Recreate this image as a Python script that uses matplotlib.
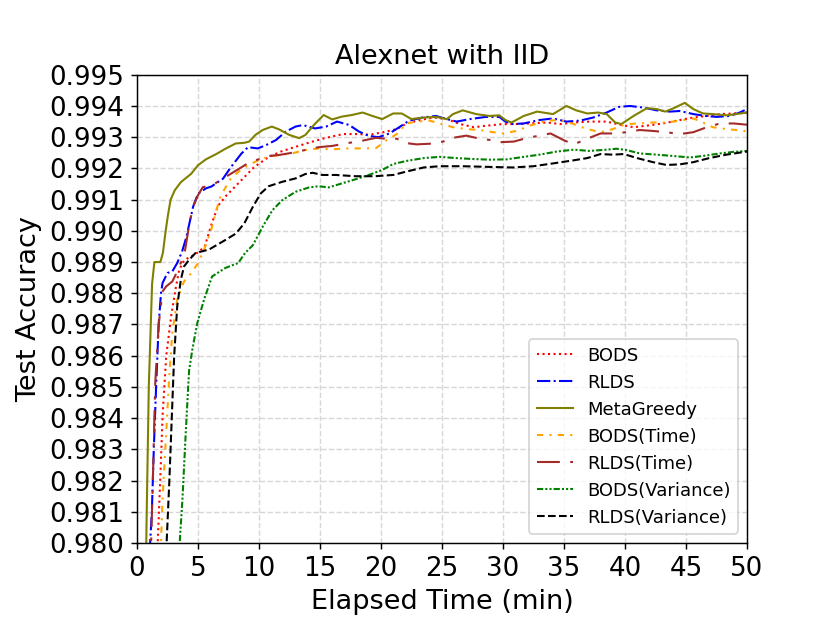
import numpy as np
import matplotlib
matplotlib.use('Agg')
import matplotlib.pyplot as plt
from matplotlib.ticker import FormatStrFormatter

# readings (elapsed minutes, test accuracy)
bods_t = [1.6, 1.7, 1.9, 2.1, 2.4, 2.8, 3.2, 3.46, 3.86, 4.27, 4.8, 5.55, 6.1, 6.64, 7.3,
          8.0, 8.8, 9.6, 10.7, 11.8, 12.9, 14.3, 15.5, 16.9, 18.0, 19.1, 20.2, 21.3, 22.1, 23.2,
          24.3, 25.4, 26.5, 27.6, 28.7, 30.0, 31.1, 32.2, 33.6, 34.7, 35.8, 37.1, 38.5, 39.6, 40.7,
          41.8, 43.1, 44.5, 45.6, 46.7, 47.8, 48.9, 50.0]
bods_acc = [0.979, 0.980, 0.98194, 0.98407, 0.98599, 0.98726, 0.98822, 0.98875, 0.98905, 0.98915,
            0.98925, 0.98949, 0.99020, 0.99080, 0.99112, 0.99140, 0.99172, 0.99204, 0.99234, 0.99254,
            0.99268, 0.99285, 0.99298, 0.99310, 0.99310, 0.99308, 0.99316, 0.99326, 0.99344, 0.99355,
            0.99363, 0.99358, 0.99342, 0.99332, 0.99337, 0.99342, 0.99342, 0.99344, 0.99347, 0.99342,
            0.99347, 0.99350, 0.99350, 0.99340, 0.99332, 0.99337, 0.99344, 0.99355, 0.99363, 0.99368,
            0.99374, 0.99376, 0.99379]

rlds_t = [1.0, 1.08, 1.22, 1.38, 1.57, 1.78, 1.97, 2.1, 2.5, 2.9, 3.3, 3.7, 4.05, 4.6, 5.0,
          5.65, 6.1, 7.05, 7.7, 8.55, 9.1, 9.9, 10.6, 11.4, 12.2, 13.0, 13.6, 14.6, 15.5, 16.4,
          17.4, 18.2, 19.0, 19.8, 20.7, 21.5, 22.3, 23.4, 24.5, 25.4, 26.2, 27.3, 28.6, 29.7, 30.2,
          30.8, 31.7, 33.0, 34.1, 35.2, 36.3, 37.4, 38.5, 39.5, 40.4, 41.5, 42.6, 43.7, 44.5, 45.6,
          46.6, 47.5, 48.6, 49.4, 50.0]
rlds_acc = [0.979, 0.980, 0.981, 0.983, 0.985, 0.987, 0.988, 0.98833, 0.98865, 0.98870,
            0.98897, 0.98934, 0.98980, 0.99077, 0.99119, 0.99136, 0.99142, 0.99167, 0.99204, 0.99247,
            0.99268, 0.99264, 0.99275, 0.99291, 0.99318, 0.99334, 0.99339, 0.99328, 0.99334, 0.99350,
            0.99339, 0.99318, 0.99304, 0.99300, 0.99312, 0.99332, 0.99353, 0.99363, 0.99368, 0.99358,
            0.99350, 0.99358, 0.99365, 0.99365, 0.99350, 0.99342, 0.99344, 0.99355, 0.99360, 0.99350,
            0.99353, 0.99363, 0.99379, 0.99397, 0.99400, 0.99395, 0.99386, 0.99382, 0.99384, 0.99374,
            0.99368, 0.99365, 0.99368, 0.99379, 0.99390]

meta_t = [0.72, 0.76, 0.97, 1.24, 1.43, 1.92, 2.13, 2.32, 2.54, 2.76, 3.1, 3.6, 4.45, 5.0, 5.65,
          6.5, 7.3, 8.1, 8.8, 9.2, 9.7, 10.3, 11.05, 11.65, 12.5, 13.3, 13.8, 14.5, 15.3, 16.0,
          16.8, 17.6, 18.5, 19.3, 20.1, 21.0, 21.7, 22.5, 23.5, 24.5, 25.4, 25.9, 26.7, 27.8, 28.9,
          29.7, 30.2, 30.7, 31.7, 32.8, 34.1, 35.2, 36.0, 36.9, 37.8, 38.5, 39.2, 39.7, 40.7, 41.8,
          42.6, 43.3, 44.0, 44.9, 45.6, 46.4, 47.2, 48.3, 49.1, 50.0]
meta_acc = [0.979, 0.9800, 0.9850, 0.9883, 0.9890, 0.9890, 0.9893, 0.9899, 0.9905, 0.9910,
            0.9913, 0.99156, 0.99183, 0.99210, 0.99229, 0.99246, 0.99264, 0.99280, 0.99282, 0.99286,
            0.99307, 0.99323, 0.99334, 0.99325, 0.99307, 0.99297, 0.99307, 0.99339, 0.99371, 0.99357,
            0.99366, 0.99371, 0.99379, 0.99368, 0.99358, 0.99376, 0.99376, 0.99358, 0.99363, 0.99365,
            0.99358, 0.99374, 0.99386, 0.99374, 0.99368, 0.99370, 0.99355, 0.99347, 0.99368, 0.99382,
            0.99374, 0.99400, 0.99386, 0.99376, 0.99379, 0.99374, 0.99347, 0.99342, 0.99368, 0.99393,
            0.99390, 0.99382, 0.99393, 0.99410, 0.99390, 0.99376, 0.99374, 0.99370, 0.99374, 0.99379]

bods_time_t = [1.85, 1.97, 2.1, 2.4, 2.65, 2.9, 3.3, 3.86, 4.4, 5.0, 5.55, 6.1, 6.5, 6.8, 7.2,
               7.7, 8.4, 9.2, 10.0, 10.8, 11.65, 12.7, 13.8, 14.9, 16.0, 17.1, 18.5, 19.6, 20.4, 21.3,
               22.1, 22.9, 24.0, 24.8, 25.9, 27.0, 28.1, 29.2, 30.0, 31.1, 32.2, 33.6, 34.7, 35.8, 36.9,
               38.0, 39.0, 40.1, 41.2, 42.3, 43.4, 44.5, 45.6, 46.4, 47.2, 48.3, 49.1, 50.0]
bods_time_acc = [0.979, 0.980, 0.98141, 0.98354, 0.98535, 0.98673, 0.98780, 0.98838, 0.98862, 0.98896,
                 0.98945, 0.99005, 0.99065, 0.99105, 0.99135, 0.99168, 0.99192, 0.99212, 0.99227, 0.99237,
                 0.99243, 0.99248, 0.99259, 0.99264, 0.99261, 0.99264, 0.99264, 0.99265, 0.99289, 0.99310,
                 0.99344, 0.99350, 0.99353, 0.99344, 0.99332, 0.99326, 0.99323, 0.99316, 0.99312, 0.99320,
                 0.99337, 0.99353, 0.99355, 0.99342, 0.99326, 0.99316, 0.99326, 0.99342, 0.99344, 0.99347,
                 0.99347, 0.99353, 0.99360, 0.99347, 0.99332, 0.99326, 0.99323, 0.99319]

rlds_time_t = [1.1, 1.16, 1.3, 1.5, 1.78, 2.1, 2.4, 2.9, 3.36, 3.9, 4.3, 4.6, 5.0, 5.4, 5.8,
               6.37, 6.9, 7.7, 8.5, 9.2, 9.8, 10.8, 11.65, 12.7, 13.8, 14.9, 16.0, 17.1, 18.5, 19.6,
               20.4, 21.3, 22.1, 22.9, 24.0, 25.1, 25.9, 27.0, 28.1, 29.2, 29.8, 30.9, 32.0, 33.0, 33.9,
               35.0, 35.8, 36.9, 38.0, 39.0, 40.1, 41.2, 42.3, 43.4, 44.5, 45.6, 46.7, 47.8, 48.9, 50.0]
rlds_time_acc = [0.979, 0.980, 0.98194, 0.98513, 0.98700, 0.98806, 0.98822, 0.98838, 0.98874, 0.98928,
                 0.99023, 0.99077, 0.99114, 0.99140, 0.99143, 0.99151, 0.99164, 0.99183, 0.99202, 0.99219,
                 0.99227, 0.99240, 0.99243, 0.99250, 0.99259, 0.99268, 0.99272, 0.99280, 0.99289, 0.99298,
                 0.99295, 0.99295, 0.99281, 0.99277, 0.99279, 0.99286, 0.99298, 0.99305, 0.99295, 0.99290,
                 0.99284, 0.99286, 0.99298, 0.99305, 0.99312, 0.99290, 0.99277, 0.99295, 0.99312, 0.99312,
                 0.99316, 0.99323, 0.99320, 0.99316, 0.99310, 0.99316, 0.99332, 0.99344, 0.99344, 0.99340]

bods_var_t = [3.3, 3.5, 3.73, 4.0, 4.27, 4.54, 4.95, 5.5, 6.16, 7.24, 8.3, 8.86, 9.5, 10.3, 11.1,
              11.9, 13.0, 14.1, 14.9, 15.7, 16.8, 17.9, 19.0, 20.1, 21.0, 22.1, 23.5, 24.8, 26.2, 27.6,
              28.9, 30.3, 31.7, 33.0, 34.4, 35.8, 37.1, 38.5, 39.3, 40.1, 41.2, 42.6, 43.9, 45.3, 46.4,
              47.8, 48.9, 50.0]
bods_var_acc = [0.979, 0.980, 0.98141, 0.98354, 0.98551, 0.98620, 0.98705, 0.98780, 0.98854, 0.98881,
                0.98897, 0.98929, 0.98954, 0.99013, 0.99066, 0.99098, 0.99125, 0.99139, 0.99143, 0.99139,
                0.99152, 0.99165, 0.99179, 0.99195, 0.99214, 0.99224, 0.99233, 0.99237, 0.99233, 0.99230,
                0.99228, 0.99229, 0.99237, 0.99244, 0.99254, 0.99260, 0.99256, 0.99260, 0.99263, 0.99259,
                0.99248, 0.99244, 0.99240, 0.99235, 0.99240, 0.99248, 0.99253, 0.99256]

rlds_var_t = [2.3, 2.43, 2.65, 2.86, 3.05, 3.3, 3.6, 3.86, 4.27, 4.8, 5.9, 7.0, 8.1, 8.8, 9.5,
              10.15, 10.8, 11.9, 13.0, 13.8, 14.4, 15.2, 16.3, 17.9, 19.5, 21.0, 22.1, 23.5, 24.8, 26.7,
              28.7, 30.8, 32.5, 34.1, 35.8, 36.9, 38.0, 39.0, 39.9, 41.0, 42.3, 43.4, 44.5, 45.6, 46.9,
              48.3, 50.0]
rlds_var_acc = [0.979, 0.980, 0.98194, 0.98407, 0.98599, 0.98758, 0.98844, 0.98886, 0.98907, 0.98929,
                0.98940, 0.98965, 0.98991, 0.99024, 0.99077, 0.99120, 0.99143, 0.99157, 0.99168, 0.99182,
                0.99186, 0.99179, 0.99179, 0.99175, 0.99175, 0.99179, 0.99190, 0.99203, 0.99207, 0.99207,
                0.99205, 0.99203, 0.99207, 0.99216, 0.99226, 0.99233, 0.99246, 0.99244, 0.99246, 0.99233,
                0.99220, 0.99211, 0.99213, 0.99220, 0.99233, 0.99244, 0.99254]

fig = plt.figure(figsize=(830 / 130, 623 / 130), dpi=130)
ax = fig.add_axes([0.165, 0.1284, 0.735, 0.7516])

lw = 1.15
ax.plot(bods_t, bods_acc, color='red', linestyle=':', linewidth=lw, label='BODS')
ax.plot(rlds_t, rlds_acc, color='blue', linestyle='-.', linewidth=lw, label='RLDS')
ax.plot(meta_t, meta_acc, color='olive', linestyle='-', linewidth=lw, label='MetaGreedy')
ax.plot(bods_time_t, bods_time_acc, color='orange', linestyle=(0, (3, 3, 1, 3)), linewidth=lw,
        label='BODS(Time)')
ax.plot(rlds_time_t, rlds_time_acc, color='brown', linestyle=(0, (11, 5, 1.7, 5)), linewidth=lw,
        label='RLDS(Time)')
ax.plot(bods_var_t, bods_var_acc, color='green', linestyle=(0, (3, 1, 1, 1, 1, 1)), linewidth=lw,
        label='BODS(Variance)')
ax.plot(rlds_var_t, rlds_var_acc, color='black', linestyle='--', linewidth=lw,
        label='RLDS(Variance)')

# Decoration
ax.set_xlim(0, 50)
ax.set_ylim(0.980, 0.995)
ax.set_xticks(np.arange(0, 51, 5))
ax.set_yticks(np.arange(0.980, 0.9951, 0.001))
ax.yaxis.set_major_formatter(FormatStrFormatter('%.3f'))
ax.tick_params(labelsize=14.5)
ax.grid(True, linestyle='--', alpha=0.5)
ax.set_xlabel('Elapsed Time (min)', fontsize=15)
ax.set_ylabel('Test Accuracy', fontsize=15)
ax.set_title('Alexnet with IID', fontsize=15)
ax.legend(loc='lower right', fontsize=10)

fig.savefig('out.png', dpi=130)
